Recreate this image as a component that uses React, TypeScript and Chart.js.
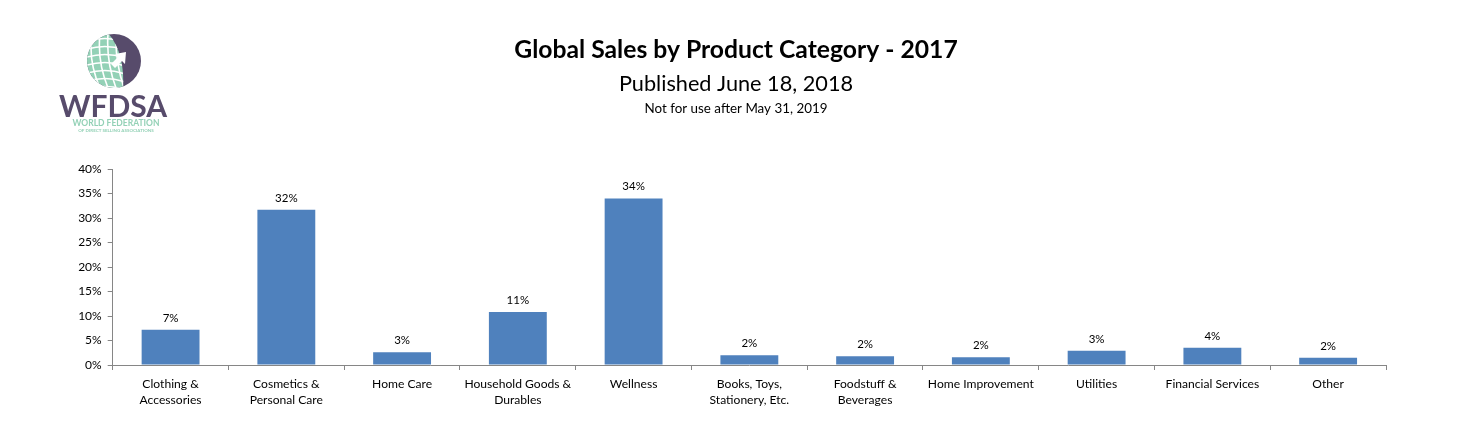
import React, { useEffect, useRef } from "react";
import { Chart, registerables } from "chart.js";

Chart.register(...registerables);

const categories: (string | string[])[] = [
  ["Clothing &", "Accessories"],
  ["Cosmetics &", "Personal Care"],
  "Home Care",
  ["Household Goods &", "Durables"],
  "Wellness",
  ["Books, Toys,", "Stationery, Etc."],
  ["Foodstuff &", "Beverages"],
  "Home Improvement",
  "Utilities",
  "Financial Services",
  "Other",
];

const salesShare: number[] = [7.2, 31.7, 2.6, 10.8, 34.0, 2.0, 1.8, 1.6, 2.9, 3.5, 1.5];

const titleText = "Global Sales by Product Category - 2017";
const subtitleText = "Published June 18, 2018";
const noteText = "Not for use after May 31, 2019";
const logoMain = "WFDSA";
const logoLine1 = "WORLD FEDERATION";
const logoLine2 = "OF DIRECT SELLING ASSOCIATIONS";

const FONT = "Lato, 'Open Sans', sans-serif";
const BAR = "#4F81BD";
const AXIS = "#868686";
const PURPLE = "#574b6b";
const MINT = "#93d1b6";

const headerPlugin = {
  id: "header",
  beforeDraw(chart: any) {
    const ctx = chart.ctx as CanvasRenderingContext2D;
    ctx.save();
    ctx.fillStyle = "#000";
    ctx.textAlign = "center";
    ctx.textBaseline = "alphabetic";
    const cx = 736 - 8;
    ctx.font = `bold 24.7px ${FONT}`;
    ctx.fillText(titleText, cx, 58 - 8);
    ctx.font = `21.7px ${FONT}`;
    ctx.fillText(subtitleText, cx, 91 - 8);
    ctx.font = `13.4px ${FONT}`;
    ctx.fillText(noteText, cx, 113 - 8);

    // logo
    const ox = -8, oy = -8;
    const gx = 114 + ox, gy = 61 + oy, r = 27;
    ctx.save();
    ctx.beginPath();
    ctx.arc(gx, gy, r, 0, Math.PI * 2);
    ctx.clip();
    ctx.fillStyle = PURPLE;
    ctx.fillRect(gx - r, gy - r, 2 * r, 2 * r);
    ctx.beginPath();
    ctx.moveTo(gx - 6, gy - r - 1);
    ctx.bezierCurveTo(gx + 8, gy - 12, gx + 10, gy + 10, gx + 9, gy + r + 1);
    ctx.lineTo(gx - r - 2, gy + r + 2);
    ctx.lineTo(gx - r - 2, gy - r - 2);
    ctx.closePath();
    ctx.fillStyle = MINT;
    ctx.fill();
    ctx.save();
    ctx.clip();
    ctx.strokeStyle = "#fff";
    ctx.lineWidth = 1.6;
    for (let i = -3; i <= 3; i++) {
      ctx.beginPath();
      ctx.moveTo(gx - r, gy + i * 8 + 4);
      ctx.quadraticCurveTo(gx - 6, gy + i * 8 - 2, gx + 14, gy + i * 8 + 6);
      ctx.stroke();
    }
    for (let j = 0; j < 4; j++) {
      ctx.beginPath();
      ctx.moveTo(gx - 22 + j * 8, gy - r);
      ctx.quadraticCurveTo(gx - 26 + j * 9, gy, gx - 14 + j * 8, gy + r);
      ctx.stroke();
    }
    ctx.restore();
    ctx.beginPath();
    ctx.moveTo(gx + 12, gy - 9);
    ctx.lineTo(gx + 1, gy - 7);
    ctx.lineTo(gx + 4, gy - 4);
    ctx.lineTo(gx - 3, gy + 3);
    ctx.lineTo(gx + 1, gy + 7);
    ctx.lineTo(gx + 8, gy);
    ctx.lineTo(gx + 11, gy + 3);
    ctx.closePath();
    ctx.fillStyle = "#fff";
    ctx.fill();
    ctx.restore();

    ctx.textAlign = "center";
    ctx.fillStyle = PURPLE;
    ctx.font = `bold 30px ${FONT}`;
    ctx.fillText(logoMain, 113 + ox, 117 + oy);
    ctx.fillStyle = MINT;
    ctx.font = `bold 8.5px ${FONT}`;
    ctx.fillText(logoLine1, 116 + ox, 126 + oy);
    ctx.font = `bold 4.5px ${FONT}`;
    ctx.fillText(logoLine2, 116 + ox, 132 + oy);
    ctx.restore();
  },
};

const valueLabelPlugin = {
  id: "valueLabels",
  afterDatasetsDraw(chart: any) {
    const ctx = chart.ctx as CanvasRenderingContext2D;
    const meta = chart.getDatasetMeta(0);
    const data = chart.data.datasets[0].data as number[];
    ctx.save();
    ctx.fillStyle = "#000";
    ctx.font = `11.5px ${FONT}`;
    ctx.textAlign = "center";
    ctx.textBaseline = "alphabetic";
    meta.data.forEach((bar: any, i: number) => {
      ctx.fillText(Math.round(data[i]) + "%", bar.x, bar.y - 8);
    });
    ctx.restore();
  },
};

export default function App() {
  const canvasRef = useRef<HTMLCanvasElement | null>(null);

  useEffect(() => {
    if (!canvasRef.current) return;
    const chart = new Chart(canvasRef.current, {
      type: "bar",
      data: {
        labels: categories,
        datasets: [
          {
            data: salesShare,
            backgroundColor: BAR,
            barPercentage: 0.5,
            categoryPercentage: 1.0,
          },
        ],
      },
      options: {
        animation: false,
        responsive: true,
        maintainAspectRatio: false,
        layout: { padding: { top: 161, right: 68, bottom: 24, left: 0 } },
        plugins: {
          legend: { display: false },
          title: { display: false },
          tooltip: { enabled: false },
        },
        scales: {
          x: {
            grid: {
              display: true,
              drawOnChartArea: false,
              drawTicks: true,
              tickLength: 5,
              color: AXIS,
              offset: true,
            },
            border: { color: AXIS, width: 1 },
            ticks: {
              color: "#000",
              font: { family: FONT, size: 12.1, lineHeight: 16 / 12.1 },
              padding: 6,
              maxRotation: 0,
              autoSkip: false,
            },
          },
          y: {
            min: 0,
            max: 40,
            afterFit(scale: any) {
              scale.width = 104.7;
            },
            grid: {
              display: true,
              drawOnChartArea: false,
              drawTicks: true,
              tickLength: 5,
              color: AXIS,
            },
            border: { color: AXIS, width: 1 },
            ticks: {
              stepSize: 5,
              color: "#000",
              font: { family: FONT, size: 12 },
              padding: 6,
              callback: (v: any) => v + "%",
            },
          },
        },
      },
      plugins: [headerPlugin, valueLabelPlugin],
    });
    return () => chart.destroy();
  }, []);

  return (
    <div style={{ width: "100%", height: 430, position: "relative" }}>
      <canvas ref={canvasRef} />
    </div>
  );
}
